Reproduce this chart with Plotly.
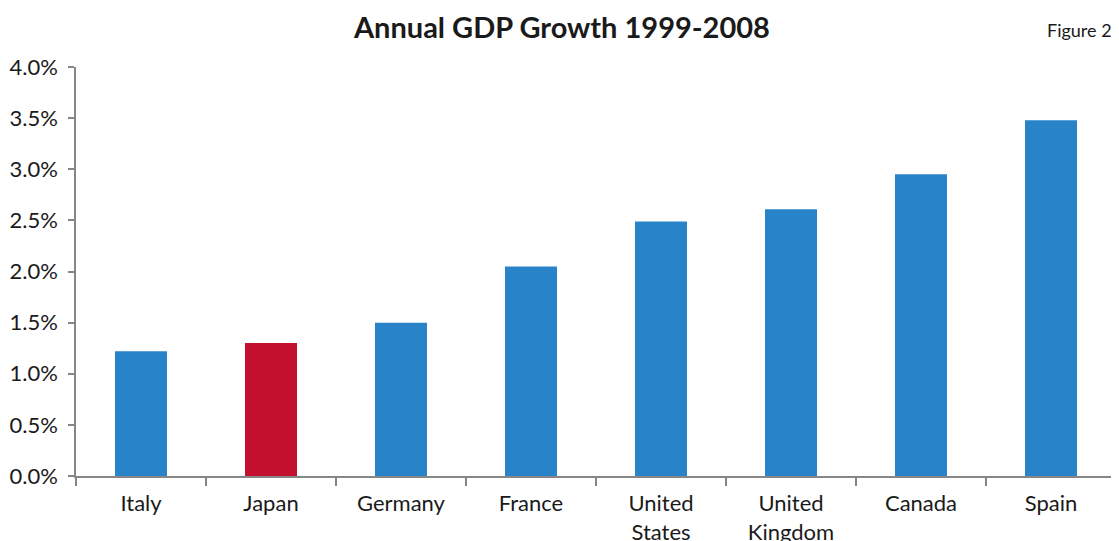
import plotly.graph_objects as go

categories = ["Italy", "Japan", "Germany", "France", "United States",
              "United Kingdom", "Canada", "Spain"]
growth = [1.22, 1.30, 1.50, 2.05, 2.49, 2.61, 2.95, 3.48]
highlight = "Japan"
y_ticks = [0, 0.5, 1.0, 1.5, 2.0, 2.5, 3.0, 3.5, 4.0]
y_tick_labels = [f"{v:.1f}%" for v in y_ticks]

labels = [c.replace(" ", "<br>") for c in categories]
colors = ["#C3102F" if c == highlight else "#2883C8" for c in categories]

FONT = "Lato, 'Open Sans', sans-serif"
AXIS = "#868686"

fig = go.Figure(go.Bar(x=labels, y=growth, marker=dict(color=colors, line=dict(width=0)),
                       width=0.4, hoverinfo="x+y"))

# the page body has an 8px default margin, so the figure is sized to fit the window
fig.update_layout(
    width=1111, height=533,
    margin=dict(l=68, r=3, t=59, b=65, autoexpand=False),
    paper_bgcolor="white", plot_bgcolor="white",
    showlegend=False,
    font=dict(family=FONT, size=22, color="#1a1a1a"),
    title=dict(text="<b>Annual GDP Growth 1999-2008</b>", x=0.4986, xanchor="center",
               y=0.962, yanchor="middle", font=dict(family=FONT, size=29, color="#1a1a1a")),
    annotations=[dict(text="Figure 2", xref="paper", yref="paper", x=0.998, y=1.0,
                      xanchor="right", yanchor="middle", yshift=37, showarrow=False,
                      font=dict(family=FONT, size=18, color="#1a1a1a"))],
    bargap=0.6,
)
fig.update_xaxes(showline=True, linecolor=AXIS, linewidth=1.5, ticks="outside",
                 tickson="boundaries", ticklen=8, tickcolor=AXIS, tickwidth=1.5,
                 showgrid=False, zeroline=False, tickfont=dict(size=22), automargin=False,
                 ticklabelstandoff=7)
fig.update_yaxes(range=[0, 4.0], tickvals=y_ticks, ticktext=y_tick_labels,
                 showline=True, linecolor=AXIS, linewidth=1.5, ticks="outside",
                 ticklen=6, tickcolor=AXIS, tickwidth=1.5, showgrid=False,
                 zeroline=False, tickfont=dict(size=22), ticklabelstandoff=6,
                 automargin=False)

fig.write_html("out.html")
